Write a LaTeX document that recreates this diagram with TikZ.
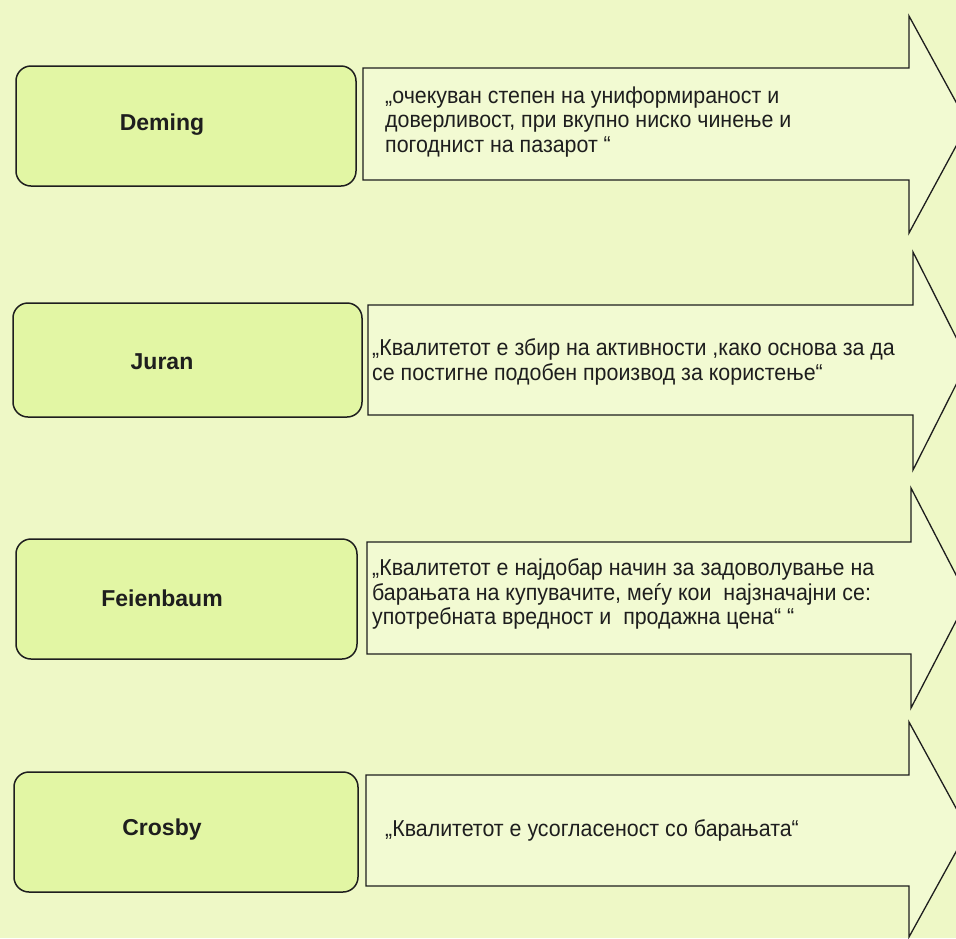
\documentclass[tikz,border=0pt]{standalone}
\usepackage{fontspec}
\setmainfont{Liberation Sans}
\newfontfamily\quotefont{Liberation Sans}[FakeStretch=0.93]
\newfontfamily\labelfont{Liberation Sans}
\definecolor{bgc}{RGB}{238,248,198}
\definecolor{boxc}{RGB}{226,246,164}
\definecolor{arrc}{RGB}{242,250,210}
\definecolor{linec}{RGB}{30,30,30}
\tikzset{
  namebox/.style={draw=linec, line width=1.5pt, fill=boxc, rounded corners=15pt},
  namelabel/.style={font=\labelfont\bfseries\fontsize{23}{27}\selectfont, text=linec},
  arrowbody/.style={draw=linec, line width=1.3pt, fill=arrc, line join=miter},
  quotetext/.style={font=\quotefont\fontsize{23}{24.5}\selectfont, text=linec, align=left, anchor=west, inner sep=0pt}
}
\begin{document}
\begin{tikzpicture}[x=1pt,y=-1pt]
\fill[bgc] (0,0) rectangle (956,938);
\useasboundingbox (0,0) rectangle (956,938);
\begin{scope}
\clip (0,0) rectangle (956,938);
% row 1
\draw[arrowbody] (363,68) -- (909,68) -- (909,16) -- (968,124) -- (909,233) -- (909,180) -- (363,180) -- cycle;
\draw[namebox] (16,66) rectangle (356,186);
% row 2
\draw[arrowbody] (368,305) -- (913,305) -- (913,252) -- (968,361) -- (913,470) -- (913,415) -- (368,415) -- cycle;
\draw[namebox] (13,303) rectangle (362,417);
% row 3
\draw[arrowbody] (367,542) -- (911,542) -- (911,488) -- (968,598) -- (911,708) -- (911,654) -- (367,654) -- cycle;
\draw[namebox] (16,539) rectangle (357,659);
% row 4
\draw[arrowbody] (366,775) -- (909,775) -- (909,722) -- (968,830) -- (909,937) -- (909,886) -- (366,886) -- cycle;
\draw[namebox] (14,772) rectangle (358,892);
\end{scope}
\node[namelabel] (deming) at (162,125) {Deming};
\node[namelabel] (juran) at (162,362) {Juran};
\node[namelabel] (feig) at (162,598) {Feienbaum};
\node[namelabel] (crosby) at (162,830) {Crosby};
\node[quotetext] (q1) at (385,122) {„очекуван степен на униформираност и\\доверливост, при вкупно ниско чинење и\\погоднист на пазарот “};
\node[quotetext] (q2) at (372,362) {„Квалитетот е збир на активности ,како основа за да\\се постигне подобен производ за користење“};
\node[quotetext] (q3) at (372,594) {„Квалитетот е најдобар начин за задоволување на\\барањата на купувачите, меѓу кои\ \ најзначајни се:\\употребната вредност и\ \ продажна цена“ “};
\node[quotetext] (q4) at (385,830) {„Квалитетот е усогласеност со барањата“};
\end{tikzpicture}
\end{document}
